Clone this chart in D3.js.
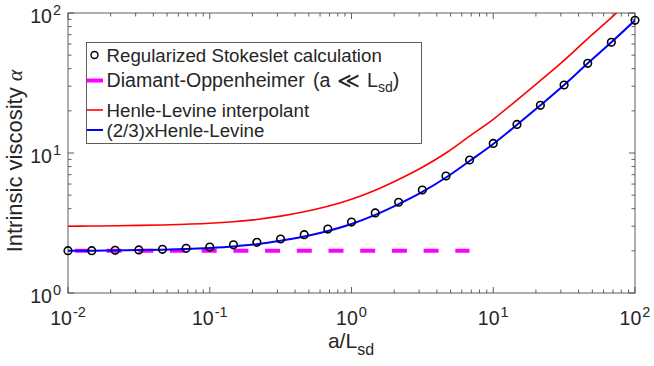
<!DOCTYPE html>
<html><head><meta charset="utf-8">
<script src="https://cdn.jsdelivr.net/npm/d3@7"></script>
<style>
body{margin:0;background:#fff}
text{font-family:"Liberation Sans",Arial,Helvetica,sans-serif;fill:#262626}
</style>
</head><body>
<svg id="chart" width="654" height="366"></svg>
<script>
// ---- data ----
const ratioX = [0.01, 0.0147, 0.0215, 0.0316, 0.0464, 0.0681, 0.1, 0.147, 0.215, 0.316, 0.464, 0.681, 1, 1.47, 2.15, 3.16, 4.64, 6.81, 10, 14.7, 21.5, 31.6, 46.4, 68.1, 100];
const stokesletAlpha = [2.005, 2.005, 2.018, 2.03, 2.05, 2.085, 2.13, 2.21, 2.30, 2.43, 2.61, 2.86, 3.21, 3.73, 4.45, 5.44, 6.85, 8.91, 11.7, 16.0, 21.9, 30.6, 43.7, 61.8, 88.7];
const henleLevineAlpha = [3.0, 3.01, 3.02, 3.04, 3.06, 3.10, 3.15, 3.23, 3.35, 3.54, 3.80, 4.16, 4.67, 5.42, 6.47, 7.91, 10.0, 13.2, 17.4, 23.9, 32.9, 45.9, 65.6, 92.7, 133];
const twoThirdsHLAlpha = [2.0, 2.005, 2.015, 2.025, 2.04, 2.065, 2.10, 2.15, 2.23, 2.36, 2.53, 2.77, 3.11, 3.61, 4.31, 5.27, 6.68, 8.77, 11.6, 15.9, 21.9, 30.6, 43.7, 61.8, 88.7];
const diamantX = [0.01, 6.8];
const diamantAlpha = [2, 2];
const xTickExponents = [-2, -1, 0, 1, 2];
const yTickExponents = [0, 1, 2];
const legendLabels = ["Regularized Stokeslet calculation", "Diamant-Oppenheimer", "Henle-Levine interpolant", "(2/3)xHenle-Levine"];

// ---- layout ----
const svg = d3.select("#chart");
const L = 68, R = 635, T = 13, B = 293;
const x = d3.scaleLog().domain([0.01, 100]).range([L, R]);
const y = d3.scaleLog().domain([1, 100]).range([B, T]);
const axisColor = "#4d4d4d";

svg.append("rect").attr("width", 654).attr("height", 366).attr("fill", "#fff");

svg.append("defs").append("clipPath").attr("id", "clip")
  .append("rect").attr("x", L).attr("y", T).attr("width", R - L).attr("height", B - T);

// ---- axes (ticks inward, on all four sides) ----
function logTicks(lo, hi) {
  const out = [];
  for (let e = lo; e < hi; e++) for (let m = 1; m < 10; m++) out.push({v: m * Math.pow(10, e), major: m === 1});
  out.push({v: Math.pow(10, hi), major: true});
  return out;
}
const xt = logTicks(-2, 2), yt = logTicks(0, 2);
const g = svg.append("g").attr("stroke", axisColor).attr("stroke-width", 0.9).attr("fill", "none");
xt.forEach(t => {
  const px = x(t.v), len = t.major ? 6 : 3.5;
  g.append("line").attr("x1", px).attr("x2", px).attr("y1", B).attr("y2", B - len);
  g.append("line").attr("x1", px).attr("x2", px).attr("y1", T).attr("y2", T + len);
});
yt.forEach(t => {
  const py = y(t.v), len = t.major ? 6 : 3.5;
  g.append("line").attr("x1", L).attr("x2", L + len).attr("y1", py).attr("y2", py);
  g.append("line").attr("x1", R).attr("x2", R - len).attr("y1", py).attr("y2", py);
});
g.append("rect").attr("x", L).attr("y", T).attr("width", R - L).attr("height", B - T);

// tick labels
xTickExponents.forEach(e => {
  const t = svg.append("text").attr("x", x(Math.pow(10, e))).attr("y", 325)
    .attr("text-anchor", "middle").attr("font-size", 19.5);
  t.append("tspan").text("10");
  t.append("tspan").attr("dx", 1).attr("dy", -8).attr("font-size", 14.5).text(e < 0 ? "-" + (-e) : String(e));
});
yTickExponents.forEach(e => {
  const t = svg.append("text").attr("x", 61).attr("y", y(Math.pow(10, e)) + 10)
    .attr("text-anchor", "end").attr("font-size", 19.5);
  t.append("tspan").text("10");
  t.append("tspan").attr("dx", 1).attr("dy", -8).attr("font-size", 14.5).text(String(e));
});

// axis labels
const xl = svg.append("text").attr("x", 351).attr("y", 348).attr("text-anchor", "middle").attr("font-size", 21);
xl.append("tspan").text("a/L");
xl.append("tspan").attr("dy", 7).attr("font-size", 16).text("sd");

const yl = svg.append("text").attr("transform", "translate(22,161) rotate(-90)")
  .attr("text-anchor", "middle").attr("font-size", 22);
yl.append("tspan").text("Intrinsic viscosity ");
yl.append("tspan").attr("font-family", "'Liberation Serif','DejaVu Serif',serif").attr("font-style", "italic").text("\u03B1");

// ---- marks ----
const plot = svg.append("g").attr("clip-path", "url(#clip)");
const line = d3.line().x(d => x(d[0])).y(d => y(d[1])).curve(d3.curveMonotoneX);

plot.append("path").datum(diamantX.map((v, i) => [v, diamantAlpha[i]]))
  .attr("d", d3.line().x(d => x(d[0])).y(d => y(d[1])))
  .attr("fill", "none").attr("stroke", "#ff00ff").attr("stroke-width", 4)
  .attr("stroke-dasharray", "15,16.7").attr("stroke-dashoffset", 24.8);

plot.append("path").datum(ratioX.map((v, i) => [v, henleLevineAlpha[i]]))
  .attr("d", line).attr("fill", "none").attr("stroke", "#ff0000").attr("stroke-width", 1.6);

plot.append("path").datum(ratioX.map((v, i) => [v, twoThirdsHLAlpha[i]]))
  .attr("d", line).attr("fill", "none").attr("stroke", "#0000ff").attr("stroke-width", 2);

svg.append("g").selectAll("circle").data(ratioX.map((v, i) => [v, stokesletAlpha[i]])).join("circle")
  .attr("cx", d => x(d[0])).attr("cy", d => y(d[1])).attr("r", 3.8)
  .attr("fill", "none").attr("stroke", "#000").attr("stroke-width", 1.6);

// ---- legend ----
const lg = svg.append("g");
lg.append("rect").attr("x", 86.5).attr("y", 42.5).attr("width", 335).attr("height", 101)
  .attr("fill", "#fff").attr("stroke", axisColor).attr("stroke-width", 0.9);
const rows = [55, 80.5, 110, 130];
lg.append("circle").attr("cx", 94.5).attr("cy", rows[0]).attr("r", 3.5)
  .attr("fill", "none").attr("stroke", "#000").attr("stroke-width", 1.4);
lg.append("line").attr("x1", 87).attr("x2", 103).attr("y1", rows[1]).attr("y2", rows[1]).attr("stroke", "#ff00ff").attr("stroke-width", 4);
lg.append("line").attr("x1", 87).attr("x2", 103).attr("y1", rows[2]).attr("y2", rows[2]).attr("stroke", "#ff0000").attr("stroke-width", 1.6);
lg.append("line").attr("x1", 87).attr("x2", 103).attr("y1", rows[3]).attr("y2", rows[3]).attr("stroke", "#0000ff").attr("stroke-width", 2);
rows.forEach((ry, i) => {
  const t = lg.append("text").attr("x", 106.5).attr("y", ry + 6.5).attr("font-size", i === 1 ? 19.6 : 18.7).attr("fill", "#000");
  t.append("tspan").text(legendLabels[i]);
  if (i === 1) {
    t.append("tspan").attr("x", 313).text("(a");
    t.append("tspan").attr("x", 337).attr("font-size", 22).attr("dy", 0.5).text("\u226A");
    t.append("tspan").attr("x", 367).attr("dy", -0.5).text("L");
    t.append("tspan").attr("dy", 5).attr("font-size", 14).text("sd");
    t.append("tspan").attr("dy", -5).text(")");
  }
});
</script>
</body></html>
